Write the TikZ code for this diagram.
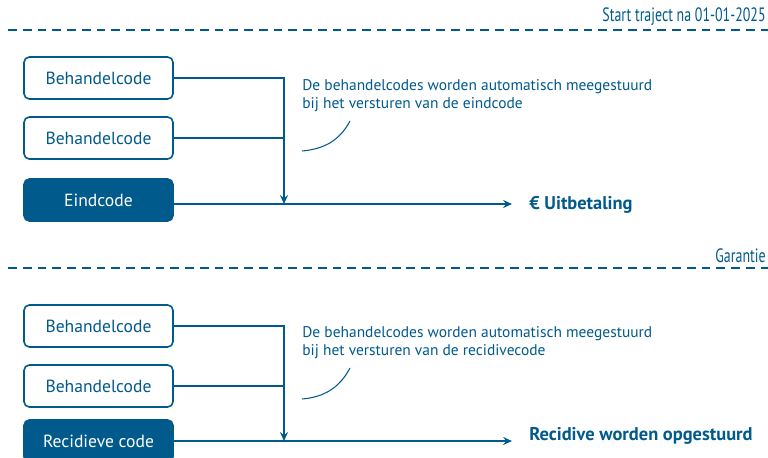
\documentclass[tikz,border=0pt]{standalone}
\usepackage{fontspec}
\setmainfont{PT Sans}
\newfontfamily\narrowfont[FakeStretch=0.72]{PT Sans}
\usetikzlibrary{arrows.meta}
\definecolor{zkblue}{RGB}{0,90,140}

\begin{document}
\begin{tikzpicture}[x=0.02cm,y=-0.02cm,
  code/.style={shape=rectangle, rounded corners=3pt, draw=zkblue, line width=0.9pt,
    fill=white, text=zkblue, minimum width=2.98cm, minimum height=0.84cm,
    font=\fontsize{10}{12}\selectfont},
  endcode/.style={code, fill=zkblue, text=white},
  link/.style={draw=zkblue, line width=0.9pt},
  arrow/.style={link, -{Stealth[length=5pt,width=4.5pt]}},
  note/.style={anchor=north west, inner sep=0pt, align=left, text=zkblue,
    font=\fontsize{8.8}{10.3}\selectfont},
  result/.style={anchor=west, inner sep=0pt, text=zkblue,
    font=\bfseries\fontsize{10.5}{12}\selectfont},
  period/.style={anchor=east, inner sep=0pt, text=zkblue,
    font=\narrowfont\fontsize{11}{12}\selectfont},
  divider/.style={draw=zkblue, line width=1.4pt, dash pattern=on 5pt off 3.4pt}]
\useasboundingbox (0,0) rectangle (768,457);

% eerste blok
\path[divider] (8,30) -- (768,30);
\node[period](start) at (766,17) {Start traject na 01-01-2025};

\node[code](b1) at (98.5,78) {Behandelcode};
\node[code](b2) at (98.5,138) {Behandelcode};
\node[endcode](eind) at (98.5,200) {Eindcode};
\coordinate (j1) at (284,204);
\coordinate (u1) at (512,204);
\node[result](pay) at (529,205) {€ Uitbetaling};

\path[arrow] (b1.east) -| (j1);
\path[link] (b2.east) -- (b2.east -| j1);
\path[arrow] (eind.east |- j1) -- (u1);

\node[note](n1) at (302,79) {De behandelcodes worden automatisch meegestuurd\\bij het versturen van de eindcode};
\draw[zkblue, line width=0.6pt] (350,121) to[out=-118,in=5] (302,151);

% tweede blok
\path[divider] (8,268) -- (768,268);
\node[period](garantie) at (766,256) {Garantie};

\node[code](b3) at (98.5,326) {Behandelcode};
\node[code](b4) at (98.5,386) {Behandelcode};
\node[endcode](recidief) at (98.5,441) {Recidieve code};
\coordinate (j2) at (284,441);
\coordinate (u2) at (512,441);
\node[result](rec) at (529,436) {Recidive worden opgestuurd};

\path[arrow] (b3.east) -| (j2);
\path[link] (b4.east) -- (b4.east -| j2);
\path[arrow] (recidief.east) -- (u2);

\node[note](n2) at (302,326) {De behandelcodes worden automatisch meegestuurd\\bij het versturen van de recidivecode};
\draw[zkblue, line width=0.6pt] (350,368) to[out=-118,in=5] (302,399);
\end{tikzpicture}
\end{document}
